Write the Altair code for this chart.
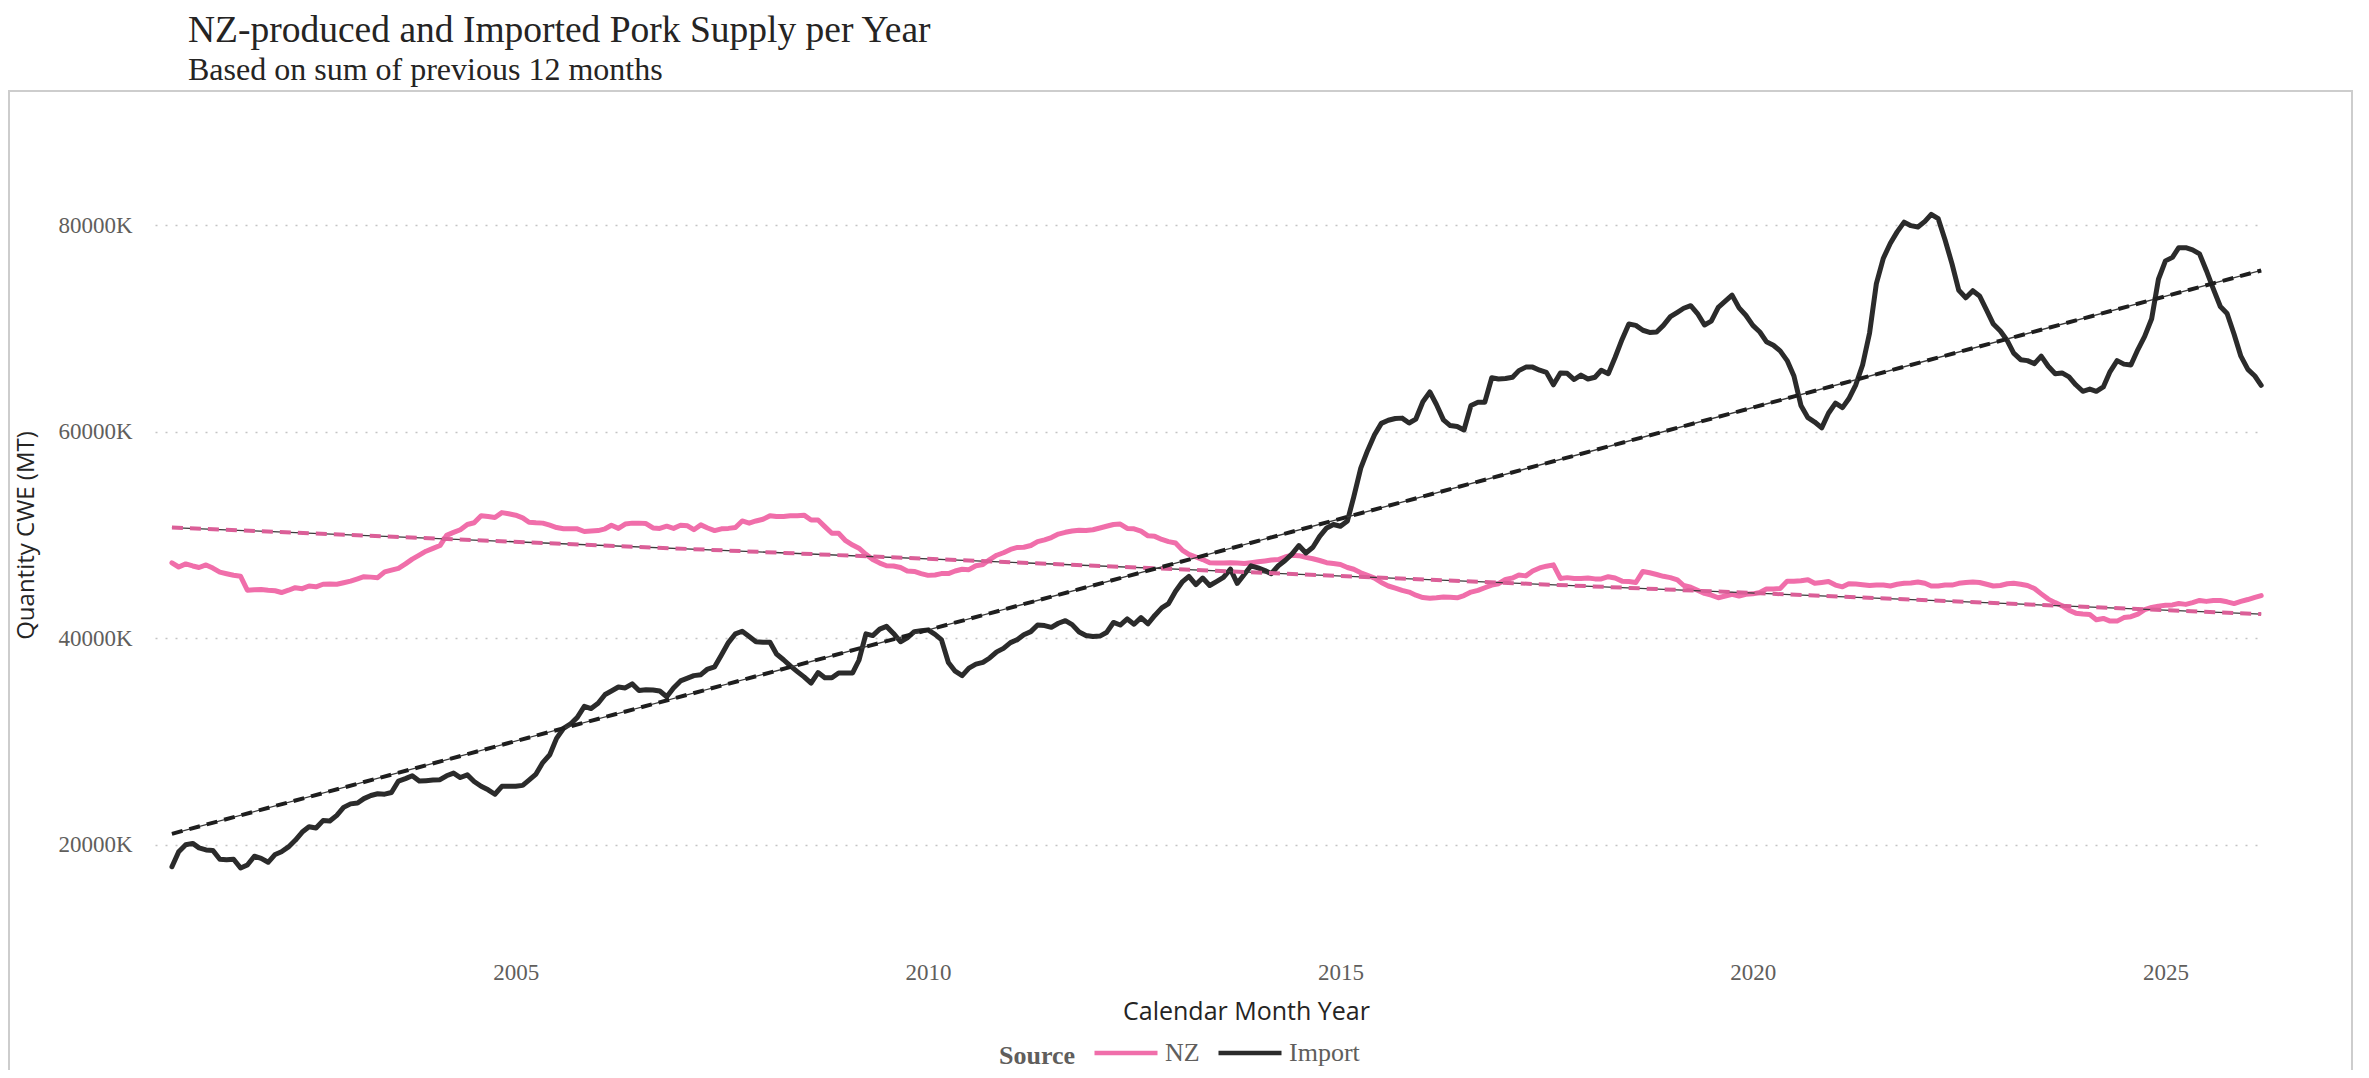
import altair as alt
import pandas as pd

# ---------------- data (thousands of MT CWE) ----------------
start_month = "2000-11-01"

nz_values = [
    47300, 46900,
    47200, 47000, 46850, 47100, 46800, 46400, 46250, 46100, 46000, 44650, 44700, 44720,
    44650, 44600, 44430, 44650, 44900, 44800, 45060, 44980, 45230, 45250, 45230, 45380,
    45530, 45750, 45960, 45920, 45870, 46430, 46600, 46770, 47200, 47660, 48050, 48430,
    48700, 48980, 49960, 50250, 50510, 51020, 51190, 51870, 51790, 51700, 52170, 52050,
    51920, 51660, 51230, 51180, 51150, 50950, 50720, 50600, 50600, 50600, 50340, 50380,
    50430, 50600, 50940, 50640, 51060, 51150, 51150, 51110, 50680, 50640, 50850, 50640,
    50940, 50890, 50510, 50980, 50680, 50430, 50600, 50640, 50720, 51360, 51150, 51360,
    51530, 51870, 51790, 51790, 51870, 51870, 51920, 51450, 51450, 50810, 50170, 50170,
    49450, 49020, 48720, 48130, 47620, 47280, 47020, 47000, 46850, 46510, 46470, 46260,
    46090, 46130, 46260, 46260, 46510, 46680, 46640, 47020, 47150, 47620, 48040, 48280,
    48600, 48800, 48810, 48980, 49360, 49530, 49750, 50090, 50260, 50380, 50470, 50430,
    50510, 50680, 50850, 51020, 51060, 50640, 50600, 50380, 49920, 49870, 49570, 49360,
    49230, 48510, 48130, 47870, 47620, 47320, 47280, 47280, 47320, 47280, 47230, 47320,
    47400, 47490, 47570, 47620, 47870, 48040, 48000, 47830, 47700, 47530, 47320, 47230,
    47150, 46850, 46680, 46340, 46090, 45830, 45400, 45060, 44850, 44640, 44470, 44170,
    43940, 43870, 43920, 44000, 43960, 43920, 44130, 44470, 44640, 44890, 45150, 45280,
    45700, 45830, 46130, 46040, 46510, 46810, 46980, 47110, 45790, 45870, 45790, 45790,
    45830, 45750, 45750, 45960, 45830, 45530, 45490, 45400, 46470, 46340, 46170, 46000,
    45870, 45660, 45110, 44940, 44640, 44340, 44170, 43920, 44090, 44260, 44090, 44260,
    44300, 44430, 44770, 44770, 44810, 45530, 45530, 45570, 45660, 45320, 45400, 45490,
    45150, 44980, 45280, 45250, 45190, 45110, 45150, 45150, 45060, 45230, 45320, 45360,
    45450, 45320, 45060, 45060, 45150, 45150, 45320, 45400, 45450, 45400, 45230, 45060,
    45110, 45280, 45320, 45230, 45110, 44810, 44300, 43790, 43450, 43150, 42720, 42430,
    42340, 42300, 41790, 41920, 41660, 41660, 42000, 42090, 42340, 42770, 42980, 43110,
    43190, 43230, 43360, 43280, 43450, 43660, 43570, 43660, 43660, 43530, 43360, 43570,
    43750, 43960, 44130,
]

import_values = [
    17870, 19320,
    20000, 20130, 19700, 19500, 19450, 18600, 18550, 18600, 17750, 18040, 18890, 18680,
    18300, 19060, 19320, 19790, 20430, 21230, 21750, 21620, 22340, 22300, 22850, 23620,
    23960, 24040, 24470, 24770, 24940, 24900, 25060, 26170, 26400, 26680, 26170, 26210,
    26260, 26300, 26680, 26940, 26510, 26770, 26130, 25660, 25320, 24890, 25660, 25660,
    25660, 25750, 26260, 26850, 27960, 28720, 30300, 31280, 31700, 32340, 33400, 33190,
    33700, 34550, 34890, 35280, 35190, 35580, 34940, 35020, 34980, 34890, 34340, 35190,
    35870, 36130, 36380, 36470, 37020, 37230, 38380, 39580, 40430, 40680, 40170, 39660,
    39620, 39620, 38470, 37920, 37320, 36770, 36260, 35660, 36680, 36170, 36170, 36640,
    36640, 36640, 37870, 40430, 40260, 40890, 41150, 40470, 39660, 40040, 40640, 40720,
    40810, 40380, 39870, 37660, 36810, 36380, 37110, 37490, 37660, 38090, 38680, 39020,
    39580, 39870, 40340, 40640, 41280, 41230, 41060, 41450, 41700, 41320, 40600, 40260,
    40170, 40210, 40550, 41530, 41280, 41870, 41360, 42000, 41400, 42210, 42940, 43360,
    44550, 45490, 46000, 45190, 45830, 45110, 45490, 45900, 46700, 45320, 46170, 47020,
    46810, 46550, 46260, 47020, 47530, 48170, 48980, 48260, 48810, 49870, 50680, 51020,
    50850, 51360, 53700, 56470, 58170, 59700, 60810, 61110, 61280, 61320, 60850, 61230,
    62900, 63850, 62640, 61150, 60600, 60510, 60170, 62550, 62850, 62850, 65230, 65110,
    65150, 65280, 65920, 66260, 66260, 65960, 65750, 64550, 65700, 65660, 65060, 65490,
    65110, 65280, 65960, 65620, 67190, 68940, 70430, 70300, 69830, 69620, 69660, 70300,
    71150, 71570, 71960, 72210, 71450, 70340, 70720, 72040, 72640, 73230, 72000, 71280,
    70300, 69660, 68720, 68380, 67830, 66890, 65400, 62550, 61360, 60940, 60380, 61790,
    62770, 62340, 63190, 64550, 66470, 69570, 74340, 76810, 78260, 79360, 80300, 79960,
    79830, 80380, 81060, 80640, 78600, 76260, 73700, 72980, 73660, 73150, 71790, 70430,
    69750, 68810, 67620, 66980, 66890, 66600, 67320, 66340, 65620, 65700, 65320, 64550,
    63920, 64130, 63920, 64340, 65830, 66890, 66550, 66470, 67960, 69230, 70940, 74770,
    76550, 76890, 77830, 77830, 77620, 77230, 75620, 73830, 72130, 71450, 69450, 67320,
    66040, 65400, 64500,
]

# trend lines (end points)
trend_dates = ["2000-11-01T00:00:00", "2026-03-01T00:00:00"]
nz_trend = [50720, 42340]
import_trend = [21060, 75620]

source_names = ["NZ", "Import"]
source_colors = ["#F06EAA", "#2B2B2B"]
y_tick_values = [20000, 40000, 60000, 80000]
x_tick_years = [2005, 2010, 2015, 2020, 2025]

months = (
    pd.date_range(start_month, periods=len(nz_values), freq="MS")
    .strftime("%Y-%m-%dT00:00:00")
    .tolist()
)

df = pd.DataFrame(
    {
        "date": months + months,
        "value": nz_values + import_values,
        "Source": ["NZ"] * len(nz_values) + ["Import"] * len(import_values),
    }
)

trend_df = pd.DataFrame(
    {
        "date": trend_dates + trend_dates,
        "value": nz_trend + import_trend,
        "Source": ["NZ"] * len(nz_trend) + ["Import"] * len(import_trend),
    }
)

# ---------------- layout ----------------
PLOT_W, PLOT_H = 2108, 826
LABEL_FONT = "Liberation Serif"
AXIS_TITLE_FONT = "Open Sans"
GREY = "#605E5C"
DARK = "#252423"

x_enc = alt.X(
    "date:T",
    scale=alt.Scale(
        domain=[
            alt.DateTime(year=2000, month=8, date=18),
            alt.DateTime(year=2026, month=3, date=9),
        ],
        nice=False,
    ),
    axis=alt.Axis(
        values=[alt.DateTime(year=y, month=1, date=1) for y in x_tick_years],
        format="%Y",
        grid=False,
        domain=False,
        ticks=False,
        tickSize=0,
        labelPadding=13,
        labelFont=LABEL_FONT,
        labelFontSize=23,
        labelColor=GREY,
        title="Calendar Month Year",
        titleFont=AXIS_TITLE_FONT,
        titleFontSize=25,
        titleFontWeight="normal",
        titleColor=DARK,
        titleX=1091,
        titleY=51,
        titleAlign="center",
        titleBaseline="top",
    ),
)

y_enc = alt.Y(
    "value:Q",
    scale=alt.Scale(domain=[10000, 90000], nice=False, zero=False),
    axis=alt.Axis(
        values=y_tick_values,
        labelExpr="datum.value + 'K'",
        grid=True,
        gridDash=[2, 8],
        gridColor="#C4C4C4",
        gridWidth=1.6,
        domain=False,
        ticks=False,
        tickSize=0,
        labelPadding=23,
        labelFont=LABEL_FONT,
        labelFontSize=23,
        labelColor=GREY,
        title="Quantity CWE (MT)",
        titleFont=AXIS_TITLE_FONT,
        titleFontSize=24,
        titleFontWeight="normal",
        titleColor=DARK,
        titleX=-129,
        titleY=413,
        titleAlign="center",
        titleBaseline="middle",
    ),
)

frame = (
    alt.Chart(pd.DataFrame({"k": [0]}))
    .mark_rect(fillOpacity=0, stroke="#CDCDCD", strokeWidth=2)
    .encode(
        x=alt.value(-146),
        x2=alt.value(2197),
        y=alt.value(-31),
        y2=alt.value(960),
    )
)

lines = (
    alt.Chart(df)
    .mark_line(strokeWidth=5, strokeJoin="round", strokeCap="round")
    .encode(
        x=x_enc,
        y=y_enc,
        color=alt.Color(
            "Source:N",
            scale=alt.Scale(domain=source_names, range=source_colors),
            legend=alt.Legend(
                title="Source",
                orient="none",
                legendX=844,
                legendY=897,
                direction="horizontal",
                titleOrient="left",
                titleAnchor="middle",
                titleFont=LABEL_FONT,
                titleFontSize=26,
                titleFontWeight="bold",
                titleColor=GREY,
                titlePadding=16,
                titleBaseline="top",
                labelFont=LABEL_FONT,
                labelFontSize=26,
                labelColor=GREY,
                labelOffset=5,
                columnPadding=9,
                symbolType="stroke",
                symbolSize=3969,
                symbolStrokeWidth=4.5,
                padding=0,
            ),
        ),
    )
)

trend_thin = (
    alt.Chart(trend_df)
    .mark_line(color="#3A3A3A", strokeWidth=1.3)
    .encode(x=x_enc, y=y_enc, detail="Source:N")
)

trend_dash = (
    alt.Chart(trend_df)
    .mark_line(strokeWidth=4, strokeDash=[11, 7])
    .encode(
        x=x_enc,
        y=y_enc,
        detail="Source:N",
        color=alt.condition(
            "datum.Source == 'NZ'", alt.value("#DB5F98"), alt.value("#1E1E1E")
        ),
    )
)

chart = (
    alt.layer(frame, lines, trend_thin, trend_dash)
    .properties(
        width=PLOT_W,
        height=PLOT_H,
        title=alt.TitleParams(
            text="NZ-produced and Imported Pork Supply per Year",
            subtitle="Based on sum of previous 12 months",
            anchor="start",
            frame="group",
            dx=33,
            offset=4,
            font=LABEL_FONT,
            fontSize=37.5,
            fontWeight="normal",
            color=DARK,
            subtitleFont=LABEL_FONT,
            subtitleFontSize=32,
            subtitleColor=DARK,
            subtitlePadding=6,
        ),
        autosize=alt.AutoSizeParams(type="none"),
        padding={"left": 147, "top": 114, "right": 97, "bottom": 122},
    )
    .configure_view(stroke="transparent")
)

chart.save("out.html", embed_options={"renderer": "svg", "actions": False})
